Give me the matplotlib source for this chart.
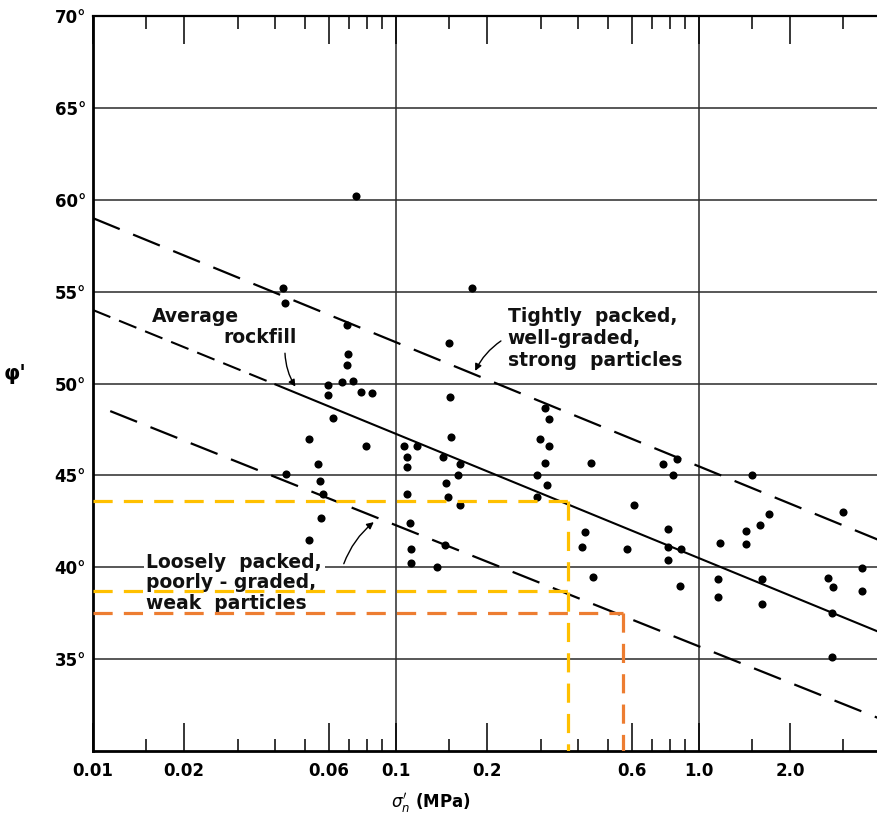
import matplotlib.pyplot as plt
from matplotlib.ticker import FixedLocator, NullFormatter

# ------------------------------------------------
# data
# ------------------------------------------------
sigma_n = [0.0738, 0.0424, 0.0431, 0.0689, 0.0693, 0.0689, 0.0597, 0.0597, 0.0663, 0.0722,
           0.0766, 0.0834, 0.0621, 0.0516, 0.0796, 0.0553, 0.0433, 0.0561, 0.0574, 0.0566,
           0.0516, 0.106, 0.117, 0.109, 0.109, 0.109, 0.111, 0.112, 0.112, 0.137,
           0.178, 0.150, 0.151, 0.152, 0.143, 0.163, 0.160, 0.146, 0.149, 0.163,
           0.145, 0.310, 0.320, 0.298, 0.320, 0.310, 0.292, 0.315, 0.292, 0.440,
           0.760, 0.846, 0.821, 0.610, 0.421, 0.411, 0.579, 0.790, 0.790, 0.872,
           0.790, 0.447, 0.866, 1.50, 1.70, 1.59, 1.43, 1.43, 1.17, 1.16,
           1.16, 1.61, 1.61, 2.99, 2.67, 2.77, 2.75, 2.75, 3.45, 3.45]
phi = [60.2, 55.2, 54.4, 53.2, 51.6, 51.0, 49.9, 49.35, 50.1, 50.15,
       49.55, 49.5, 48.1, 47.0, 46.6, 45.6, 45.05, 44.7, 44.0, 42.7,
       41.5, 46.6, 46.6, 46.0, 45.45, 44.0, 42.4, 41.0, 40.25, 40.0,
       55.2, 52.2, 49.25, 47.1, 46.0, 45.6, 45.0, 44.6, 43.8, 43.4,
       41.2, 48.65, 48.05, 47.0, 46.6, 45.7, 45.0, 44.5, 43.8, 45.7,
       45.6, 45.9, 45.0, 43.4, 41.9, 41.1, 41.0, 42.1, 41.1, 41.0,
       40.4, 39.45, 39.0, 45.0, 42.9, 42.3, 42.0, 41.25, 41.3, 39.35,
       38.4, 39.35, 38.0, 43.0, 39.4, 38.9, 37.5, 35.1, 39.95, 38.7]

# envelope / average lines (end points)
upper_x = [0.01, 3.9]
upper_phi = [59.0, 41.5]
avg_dash_x = [0.01, 0.04]
avg_dash_phi = [54.0, 49.95]
avg_x = [0.04, 3.9]
avg_phi = [49.95, 36.5]
lower_x = [0.0114, 3.9]
lower_phi = [48.5, 31.8]

# coloured guide lines
yellow_phi = [43.6, 38.7]
yellow_sigma = 0.37
orange_phi = 37.5
orange_sigma = 0.56

xtick_vals = [0.01, 0.02, 0.06, 0.1, 0.2, 0.6, 1.0, 2.0]
xtick_labels = ["0.01", "0.02", "0.06", "0.1", "0.2", "0.6", "1.0", "2.0"]
ytick_vals = [35, 40, 45, 50, 55, 60, 65, 70]
ytick_labels = [f"{v}°" for v in ytick_vals]
minor_short = [0.015, 0.05, 0.07, 0.08, 0.09, 0.15, 0.5, 0.7, 0.8, 0.9, 1.5]
minor_mid = [0.03, 0.04, 0.3, 0.4, 3.0]

# ------------------------------------------------
# figure
# ------------------------------------------------
fig = plt.figure(figsize=(8.78, 8.23), dpi=100)
ax = fig.add_axes([0.1059, 0.0875, 0.8941, 0.893])
ax.set_xscale("log")
ax.set_xlim(0.01, 3.9)
ax.set_ylim(30, 70)

# grid
for v in ytick_vals[:-1]:
    ax.axhline(v, color="#2a2a2a", lw=1.1, zorder=1)
for v in [0.1, 1.0]:
    ax.axvline(v, color="#2a2a2a", lw=1.1, zorder=1)

# lines
ax.plot(upper_x, upper_phi, color="black", lw=1.6, ls=(0, (13, 6.5)), zorder=3)
ax.plot(avg_dash_x, avg_dash_phi, color="black", lw=1.5, ls=(0, (9, 4.5)), zorder=3)
ax.plot(avg_x, avg_phi, color="black", lw=1.5, zorder=3)
ax.plot(lower_x, lower_phi, color="black", lw=1.6, ls=(0, (13, 6.5)), zorder=3)

ax.scatter(sigma_n, phi, s=34, color="black", zorder=4, linewidths=0)

# annotations
tfont = dict(fontsize=13.5, fontweight="bold", color="#111111")
ax.text(0.01566, 53.65, "Average", ha="left", va="center", **tfont)
ax.text(0.0269, 52.5, "rockfill", ha="left", va="center", **tfont)
ax.text(0.234, 54.15, "Tightly  packed,\nwell-graded,\nstrong  particles",
        ha="left", va="top", linespacing=1.2, **tfont, zorder=5)
ax.text(0.0150, 40.8, "Loosely  packed,\npoorly - graded,\nweak  particles",
        ha="left", va="top", linespacing=1.1, **tfont, zorder=5,
        bbox=dict(facecolor="white", edgecolor="none", pad=2))

arrow = dict(arrowstyle="-|>", color="black", lw=1.0, mutation_scale=10,
             connectionstyle="arc3,rad=0.15")
ax.annotate("", xy=(0.0471, 49.7), xytext=(0.0430, 51.8), arrowprops=arrow, zorder=5)
ax.annotate("", xy=(0.181, 50.55), xytext=(0.226, 52.4), arrowprops=arrow, zorder=5)
ax.annotate("", xy=(0.0859, 42.55), xytext=(0.0668, 40.05),
            arrowprops=dict(arrow, connectionstyle="arc3,rad=-0.15"), zorder=5)

# coloured guide lines
ydash = (0, (6, 3.5))
for v in yellow_phi:
    ax.plot([0.01, yellow_sigma], [v, v], color="#FFC000", lw=2.3, ls=ydash, zorder=6)
ax.plot([yellow_sigma, yellow_sigma], [yellow_phi[0], 30], color="#FFC000", lw=2.3, ls=ydash, zorder=6)
ax.plot([0.01, orange_sigma], [orange_phi, orange_phi], color="#ED7D31", lw=2.3, ls=ydash, zorder=6)
ax.plot([orange_sigma, orange_sigma], [orange_phi, 30], color="#ED7D31", lw=2.3, ls=ydash, zorder=6)

# axes styling
ax.spines["right"].set_visible(False)
ax.spines["left"].set_linewidth(2.0)
ax.spines["bottom"].set_linewidth(2.0)
ax.spines["top"].set_linewidth(1.6)

ax.xaxis.set_major_locator(FixedLocator(xtick_vals))
ax.set_xticklabels(xtick_labels)
ax.xaxis.set_minor_locator(FixedLocator(minor_short + minor_mid))
ax.xaxis.set_minor_formatter(NullFormatter())
ax.tick_params(axis="x", which="major", direction="in", length=20, width=1.1,
               top=True, labelsize=12, pad=8)
ax.tick_params(axis="x", which="minor", direction="in", length=9, width=1.1, top=True)
for t in ax.xaxis.get_minor_ticks():
    if t.get_loc() in minor_mid:
        t.tick1line.set_markersize(13)
        t.tick2line.set_markersize(13)

ax.set_yticks(ytick_vals)
ax.set_yticklabels(ytick_labels)
ax.tick_params(axis="y", length=0, labelsize=12, pad=5)
for lab in ax.get_xticklabels() + ax.get_yticklabels():
    lab.set_fontweight("bold")

ax.set_ylabel("φ'", rotation=0, fontsize=15, fontweight="bold")
ax.yaxis.set_label_coords(-0.099, 0.5)
ax.set_xlabel(r"$\sigma_n'$ (MPa)", fontsize=12, fontweight="bold")
ax.xaxis.set_label_coords(0.43, -0.055)

fig.savefig("out.png", dpi=100)
